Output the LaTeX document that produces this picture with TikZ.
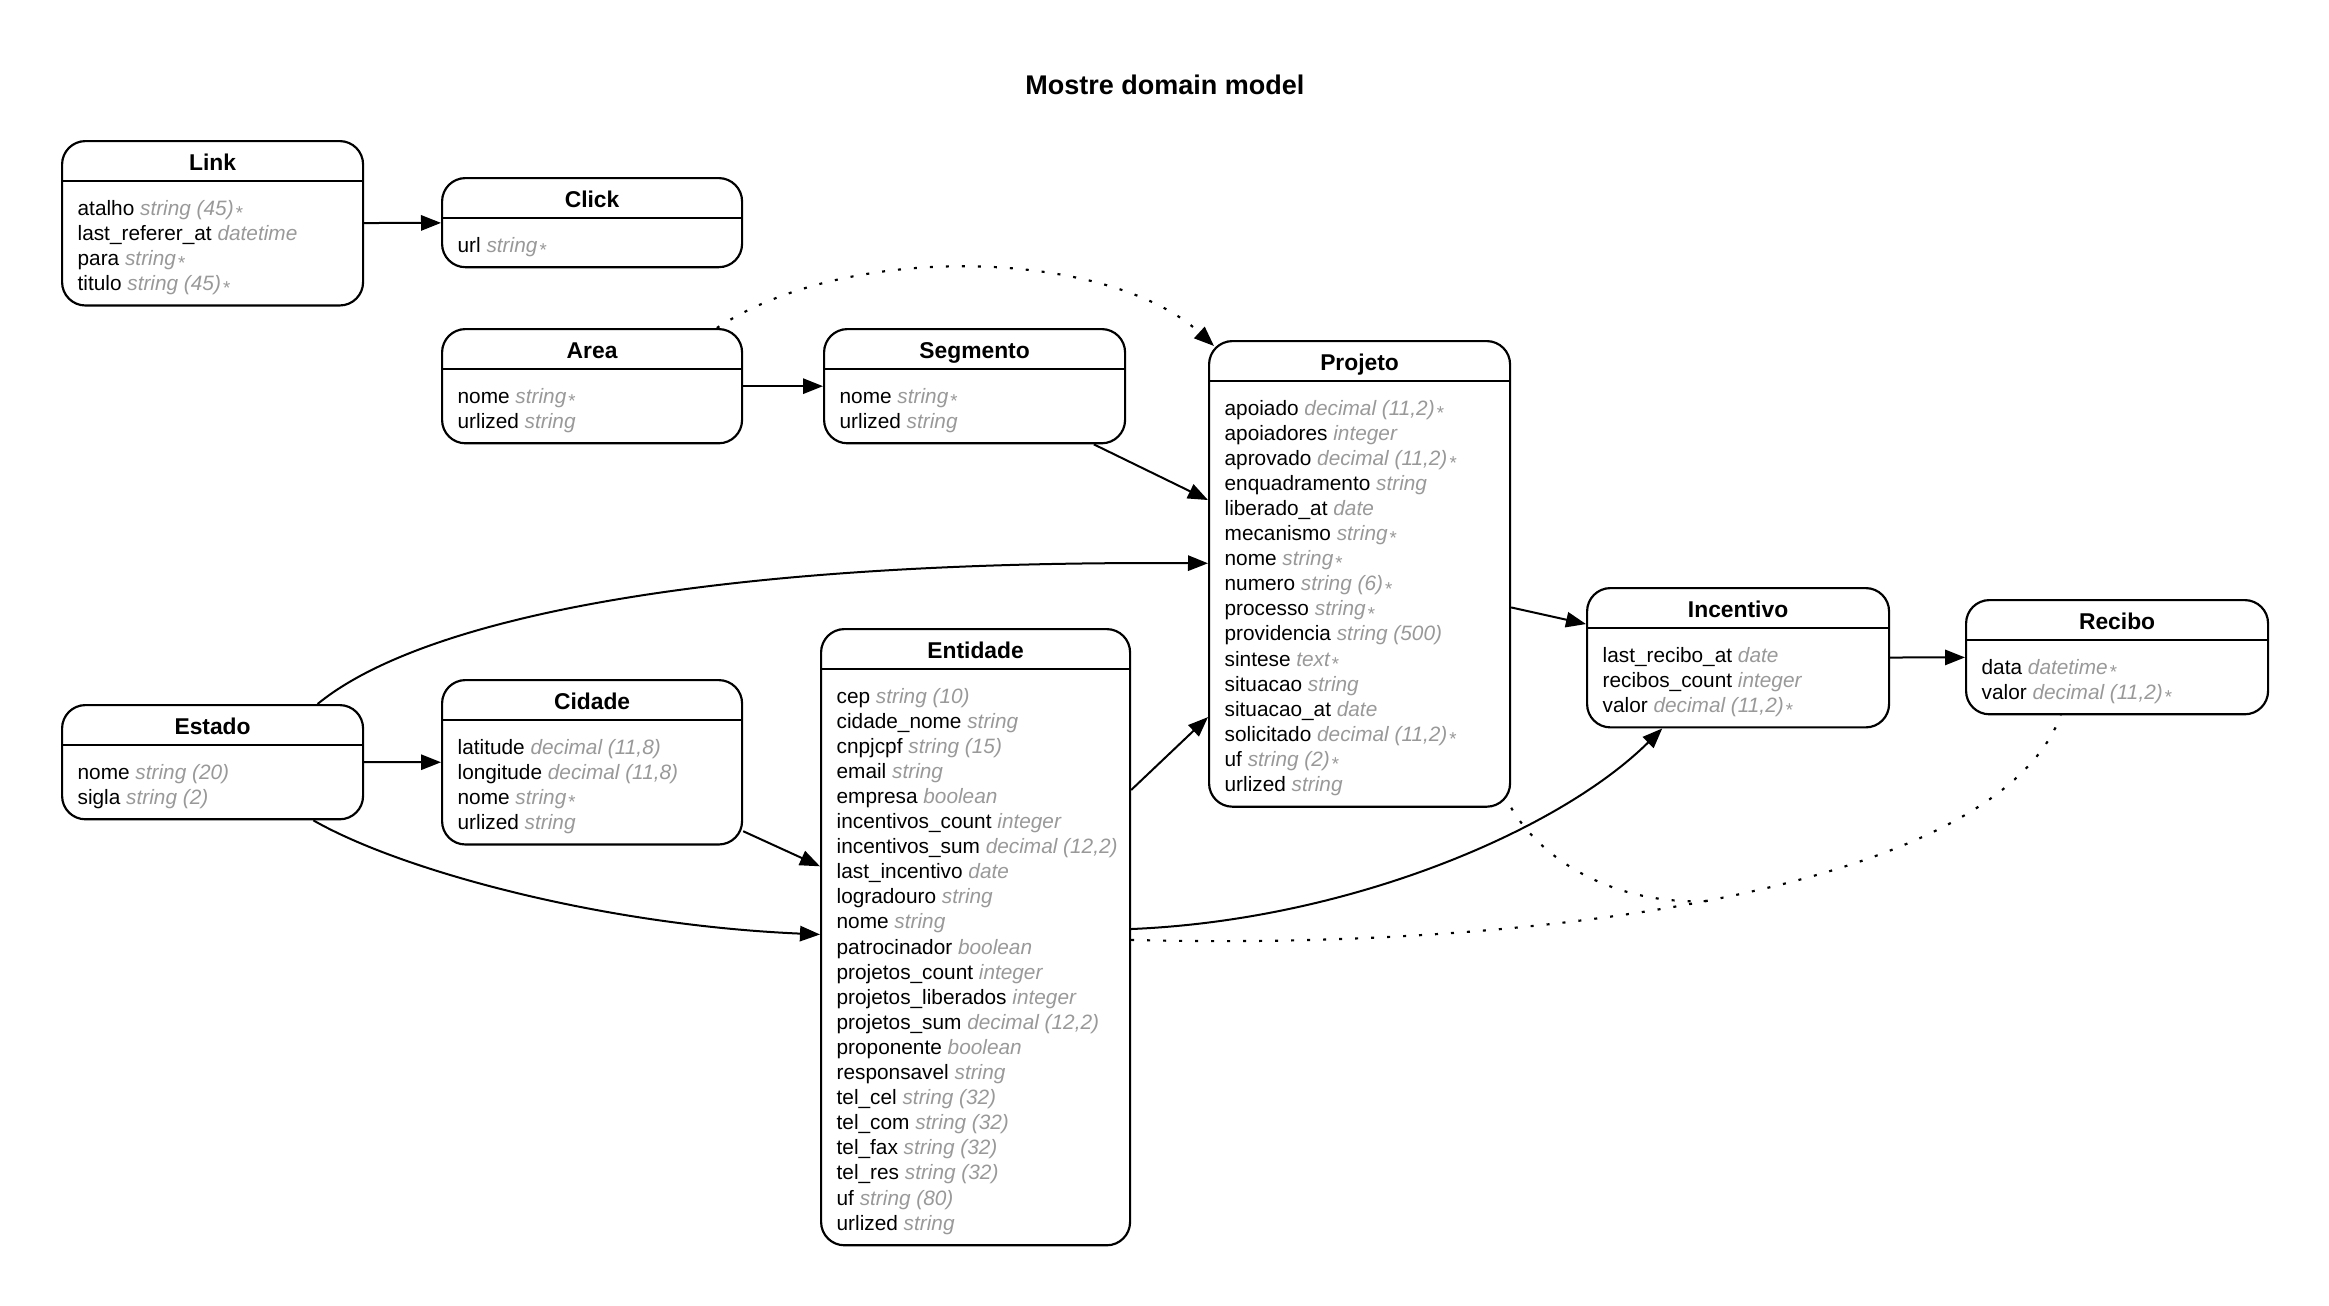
\documentclass[tikz,border=0pt]{standalone}
\usepackage{fontspec}
\setmainfont{Liberation Sans}
\usetikzlibrary{arrows.meta}

\definecolor{typegray}{RGB}{153,153,153}
\newdimen\pxu \pxu=0.3pt

% attribute type and "required" mark
\newcommand\etype[1]{{\color{typegray}\itshape #1}}
\newcommand\reqmark{\hspace{0.1em}{\color{typegray}\raisebox{-1.3pt}{\fontsize{5.6pt}{6pt}\selectfont *}}}

\tikzset{
  ebox/.style={draw, line width=0.65pt, rounded corners=7pt, inner sep=0pt, fill=white},
  sep/.style={line width=0.65pt},
  etitle/.style={anchor=base, inner sep=0pt, font=\fontsize{6.85pt}{8pt}\selectfont\bfseries},
  erow/.style={anchor=base west, inner sep=0pt, font=\fontsize{6.24pt}{7.5pt}\selectfont},
  assoc/.style={line width=0.6pt, -{Triangle[length=6pt,width=4.6pt]}},
  indirect/.style={line width=0.65pt, dash pattern=on 0.9pt off 3.9pt},
}

% #1 name, #2 left, #3 top, #4 width, #5 number of rows, #6 title, #7 rows
\newcommand\entity[7]{%
  \node[ebox, minimum width=#4*\pxu, minimum height={(64+#5*25.1)*\pxu}, anchor=north west] (#1) at (#2,#3) {};
  \draw[sep] ([yshift=-41*\pxu]#1.north west) -- ([yshift=-41*\pxu]#1.north east);
  \node[etitle] (#1-title) at ([yshift=-30*\pxu]#1.north) {#6};
  \foreach \rowtext [count=\rowidx] in {#7}
    \node[erow] (#1-row\rowidx) at ([xshift=16*\pxu, yshift={-(75+(\rowidx-1)*25.1)*\pxu}]#1.north west) {\rowtext};
}

\begin{document}
\begin{tikzpicture}[x=0.3pt, y=-0.3pt]
\fill[white] (0,0) rectangle (2329,1306);
\useasboundingbox (0,0) rectangle (2329,1306);

\node[inner sep=0pt, font=\fontsize{8.1pt}{9pt}\selectfont\bfseries] (heading) at (1165,85) {Mostre domain model};

\entity{link}{61}{140}{301}{4}{Link}{
  {atalho \etype{string (45)}\reqmark},
  {last\_referer\_at \etype{datetime}},
  {para \etype{string}\reqmark},
  {titulo \etype{string (45)}\reqmark}}

\entity{click}{441}{177}{300}{1}{Click}{
  {url \etype{string}\reqmark}}

\entity{area}{441}{328}{300}{2}{Area}{
  {nome \etype{string}\reqmark},
  {urlized \etype{string}}}

\entity{segmento}{823}{328}{301}{2}{Segmento}{
  {nome \etype{string}\reqmark},
  {urlized \etype{string}}}

\entity{projeto}{1208}{340}{301}{16}{Projeto}{
  {apoiado \etype{decimal (11,2)}\reqmark},
  {apoiadores \etype{integer}},
  {aprovado \etype{decimal (11,2)}\reqmark},
  {enquadramento \etype{string}},
  {liberado\_at \etype{date}},
  {mecanismo \etype{string}\reqmark},
  {nome \etype{string}\reqmark},
  {numero \etype{string (6)}\reqmark},
  {processo \etype{string}\reqmark},
  {providencia \etype{string (500)}},
  {sintese \etype{text}\reqmark},
  {situacao \etype{string}},
  {situacao\_at \etype{date}},
  {solicitado \etype{decimal (11,2)}\reqmark},
  {uf \etype{string (2)}\reqmark},
  {urlized \etype{string}}}

\entity{incentivo}{1586}{587}{302}{3}{Incentivo}{
  {last\_recibo\_at \etype{date}},
  {recibos\_count \etype{integer}},
  {valor \etype{decimal (11,2)}\reqmark}}

\entity{recibo}{1965}{599}{302}{2}{Recibo}{
  {data \etype{datetime}\reqmark},
  {valor \etype{decimal (11,2)}\reqmark}}

\entity{estado}{61}{704}{301}{2}{Estado}{
  {nome \etype{string (20)}},
  {sigla \etype{string (2)}}}

\entity{cidade}{441}{679}{300}{4}{Cidade}{
  {latitude \etype{decimal (11,8)}},
  {longitude \etype{decimal (11,8)}},
  {nome \etype{string}\reqmark},
  {urlized \etype{string}}}

\entity{entidade}{820}{628}{309}{22}{Entidade}{
  {cep \etype{string (10)}},
  {cidade\_nome \etype{string}},
  {cnpjcpf \etype{string (15)}},
  {email \etype{string}},
  {empresa \etype{boolean}},
  {incentivos\_count \etype{integer}},
  {incentivos\_sum \etype{decimal (12,2)}},
  {last\_incentivo \etype{date}},
  {logradouro \etype{string}},
  {nome \etype{string}},
  {patrocinador \etype{boolean}},
  {projetos\_count \etype{integer}},
  {projetos\_liberados \etype{integer}},
  {projetos\_sum \etype{decimal (12,2)}},
  {proponente \etype{boolean}},
  {responsavel \etype{string}},
  {tel\_cel \etype{string (32)}},
  {tel\_com \etype{string (32)}},
  {tel\_fax \etype{string (32)}},
  {tel\_res \etype{string (32)}},
  {uf \etype{string (80)}},
  {urlized \etype{string}}}

% direct associations
\draw[assoc] (link) -- (click);
\draw[assoc] (area) -- (segmento);
\draw[assoc] (segmento) -- (projeto);
\draw[assoc] (estado) -- (cidade);
\draw[assoc] (cidade) -- (entidade);
\draw[assoc] (entidade) -- (projeto);
\draw[assoc] (projeto) -- (incentivo);
\draw[assoc] (incentivo) -- (recibo);
\draw[assoc] (estado.29.6) .. controls (420,620) and (700,560) .. (projeto.176.8);
\draw[assoc] (estado.-30.3) .. controls (400,870) and (600,925) .. (entidade.179.3);
\draw[assoc] (entidade.3) .. controls (1350,920) and (1560,830) .. (incentivo.223.6);

% indirect associations
\draw[indirect, -{Triangle[length=6pt,width=4.6pt]}] (area.25.2) .. controls (850,240) and (1110,250) .. ([xshift=6*\pxu, yshift=-6*\pxu]projeto.north west);
\draw[indirect] (entidade.-1.5) .. controls (1500,950) and (1990,900) .. (recibo.226.8);
\coordinate (junction) at (1707,901);
\draw[indirect] (projeto.south east) .. controls (1545,865) and (1620,905) .. (junction);
\end{tikzpicture}
\end{document}
